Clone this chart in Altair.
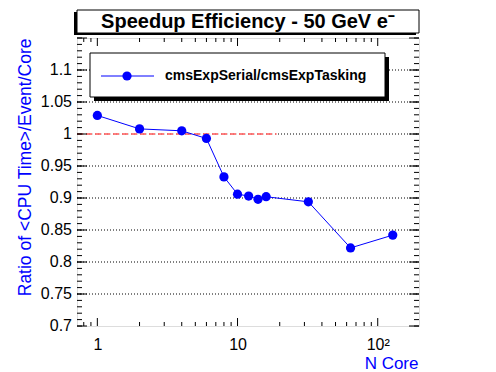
import altair as alt
import pandas as pd

# ---- data ----
cores = [1, 2, 4, 6, 8, 10, 12, 14, 16, 32, 64, 128]
ratio = [1.029, 1.008, 1.005, 0.993, 0.933, 0.906, 0.903, 0.898, 0.902, 0.894, 0.822, 0.842]
series_label = "cmsExpSerial/cmsExpTasking"
title_text = "Speedup Efficiency - 50 GeV e\u207b"
x_title = "N Core"
y_title = "Ratio of <CPU Time>/Event/Core"

x_domain = [0.716, 197]
y_domain = [0.7, 1.15]
y_labels = [0.7, 0.75, 0.8, 0.85, 0.9, 0.95, 1.0, 1.05, 1.1]
y_label_text = ["0.7", "0.75", "0.8", "0.85", "0.9", "0.95", "1", "1.05", "1.1"]
y_grid = [0.75, 0.8, 0.85, 0.9, 0.95, 1.0, 1.05, 1.1]
y_major = [0.7, 0.75, 0.8, 0.85, 0.9, 0.95, 1.0, 1.05, 1.1, 1.15]
y_minor = [round(0.70 + 0.01 * i, 2) for i in range(46)]
x_major = [1, 10, 100]
x_minor = [0.8, 0.9, 2, 3, 4, 5, 6, 7, 8, 9, 20, 30, 40, 50, 60, 70, 80, 90]
ref_x = [0.716, 19]
ref_y = [1.0, 1.0]

W, H = 342, 288
BLUE = "#0000ff"
FONT = "Liberation Sans"

xs = alt.Scale(type="log", domain=x_domain, nice=False)
ys = alt.Scale(domain=y_domain, nice=False, zero=False)

df = pd.DataFrame({"x": cores, "y": ratio})

x_axis = alt.Axis(
    values=x_major, format=".0f",
    labelExpr="datum.value >= 100 ? '10\u00b2' : datum.label",
    ticks=False, tickSize=0, domain=False, grid=False,
    labelOverlap=False, labelFlush=False,
    labelFont=FONT, labelFontSize=16, labelColor="black", labelPadding=10,
    title=x_title, titleFont=FONT, titleFontSize=17, titleFontWeight="normal",
    titleColor=BLUE, titleAlign="right", titleX=341, titleY=42,
    titleBaseline="alphabetic",
)
y_axis = alt.Axis(
    labels=False, ticks=False, tickSize=0, domain=False, grid=False,
    title=y_title, titleFont=FONT, titleFontSize=17.5, titleFontWeight="normal",
    titleColor=BLUE, titleAlign="right", titleAngle=270, titleX=-52, titleY=0,
    titleBaseline="middle",
)

line = alt.Chart(df).mark_line(color=BLUE, strokeWidth=1).encode(
    x=alt.X("x:Q", scale=xs, axis=x_axis),
    y=alt.Y("y:Q", scale=ys, axis=y_axis),
)
points = alt.Chart(df).mark_circle(color=BLUE, size=85, opacity=1).encode(
    x=alt.X("x:Q", scale=xs), y=alt.Y("y:Q", scale=ys)
)

ylab = alt.Chart(pd.DataFrame({"y": y_labels, "t": y_label_text})).mark_text(
    font=FONT, fontSize=16, align="right", baseline="middle", color="black"
).encode(y=alt.Y("y:Q", scale=ys), x=alt.value(-5), text="t:N")

grid = alt.Chart(pd.DataFrame({"y": y_grid})).mark_rule(
    color="black", strokeWidth=1, strokeDash=[1, 2]
).encode(y=alt.Y("y:Q", scale=ys), x=alt.value(0), x2=alt.value(W))

ref_df = pd.DataFrame({"x": ref_x, "y": ref_y})
ref_bg = alt.Chart(ref_df).mark_line(color="white", strokeWidth=1.5).encode(
    x=alt.X("x:Q", scale=xs), y=alt.Y("y:Q", scale=ys))
ref = alt.Chart(ref_df).mark_line(
    color="#ff0000", strokeWidth=1, strokeDash=[6, 3]
).encode(x=alt.X("x:Q", scale=xs), y=alt.Y("y:Q", scale=ys))

# inward ticks (ROOT style)
ymaj = pd.DataFrame({"y": y_major})
ymin = pd.DataFrame({"y": y_minor})
xmaj = pd.DataFrame({"x": x_major})
xmin = pd.DataFrame({"x": x_minor})
tk = dict(color="black", strokeWidth=1)
ticks = [
    alt.Chart(ymaj).mark_rule(**tk).encode(y=alt.Y("y:Q", scale=ys), x=alt.value(0), x2=alt.value(10)),
    alt.Chart(ymaj).mark_rule(**tk).encode(y=alt.Y("y:Q", scale=ys), x=alt.value(W - 10), x2=alt.value(W)),
    alt.Chart(ymin).mark_rule(**tk).encode(y=alt.Y("y:Q", scale=ys), x=alt.value(0), x2=alt.value(5)),
    alt.Chart(ymin).mark_rule(**tk).encode(y=alt.Y("y:Q", scale=ys), x=alt.value(W - 5), x2=alt.value(W)),
    alt.Chart(xmaj).mark_rule(**tk).encode(x=alt.X("x:Q", scale=xs), y=alt.value(H - 8), y2=alt.value(H)),
    alt.Chart(xmaj).mark_rule(**tk).encode(x=alt.X("x:Q", scale=xs), y=alt.value(0), y2=alt.value(8)),
    alt.Chart(xmin).mark_rule(**tk).encode(x=alt.X("x:Q", scale=xs), y=alt.value(H - 4), y2=alt.value(H)),
    alt.Chart(xmin).mark_rule(**tk).encode(x=alt.X("x:Q", scale=xs), y=alt.value(0), y2=alt.value(4)),
]

one = pd.DataFrame({"t": [series_label]})
tdf = pd.DataFrame({"t": [title_text]})

# legend box with shadow
leg_shadow = alt.Chart(one).mark_rect(color="black").encode(
    x=alt.value(17), x2=alt.value(312), y=alt.value(19), y2=alt.value(63))
leg_box = alt.Chart(one).mark_rect(fill="white", stroke="black", strokeWidth=1).encode(
    x=alt.value(13), x2=alt.value(308), y=alt.value(15), y2=alt.value(59))
leg_line = alt.Chart(one).mark_rule(color=BLUE, strokeWidth=1).encode(
    x=alt.value(24), x2=alt.value(77), y=alt.value(38))
leg_pt = alt.Chart(one).mark_circle(color=BLUE, size=85, opacity=1).encode(
    x=alt.value(50), y=alt.value(38))
leg_txt = alt.Chart(one).mark_text(
    font=FONT, fontSize=14, fontWeight="bold", align="left", baseline="middle", color="black"
).encode(x=alt.value(88), y=alt.value(38), text="t:N")

# title box with shadow
ttl_shadow = alt.Chart(tdf).mark_rect(color="black").encode(
    x=alt.value(-3), x2=alt.value(339), y=alt.value(-26), y2=alt.value(-3))
ttl_box = alt.Chart(tdf).mark_rect(fill="white", stroke="black", strokeWidth=1).encode(
    x=alt.value(0), x2=alt.value(342), y=alt.value(-28), y2=alt.value(-5))
ttl_txt = alt.Chart(tdf).mark_text(
    font=FONT, fontSize=20, fontWeight="bold", align="center", baseline="middle", color="black"
).encode(x=alt.value(171), y=alt.value(-16), text="t:N")

chart = alt.layer(
    grid, ref_bg, ref, line, points, *ticks, ylab,
    leg_shadow, leg_box, leg_line, leg_pt, leg_txt,
    ttl_shadow, ttl_box, ttl_txt,
).properties(
    width=W, height=H,
    autosize=alt.AutoSizeParams(type="none"),
    padding={"left": 69, "top": 30, "right": 69, "bottom": 48},
).configure_view(
    stroke="black", strokeWidth=2
).configure(background="white")

chart.save("out.html", embed_options={"renderer": "svg", "actions": False})
